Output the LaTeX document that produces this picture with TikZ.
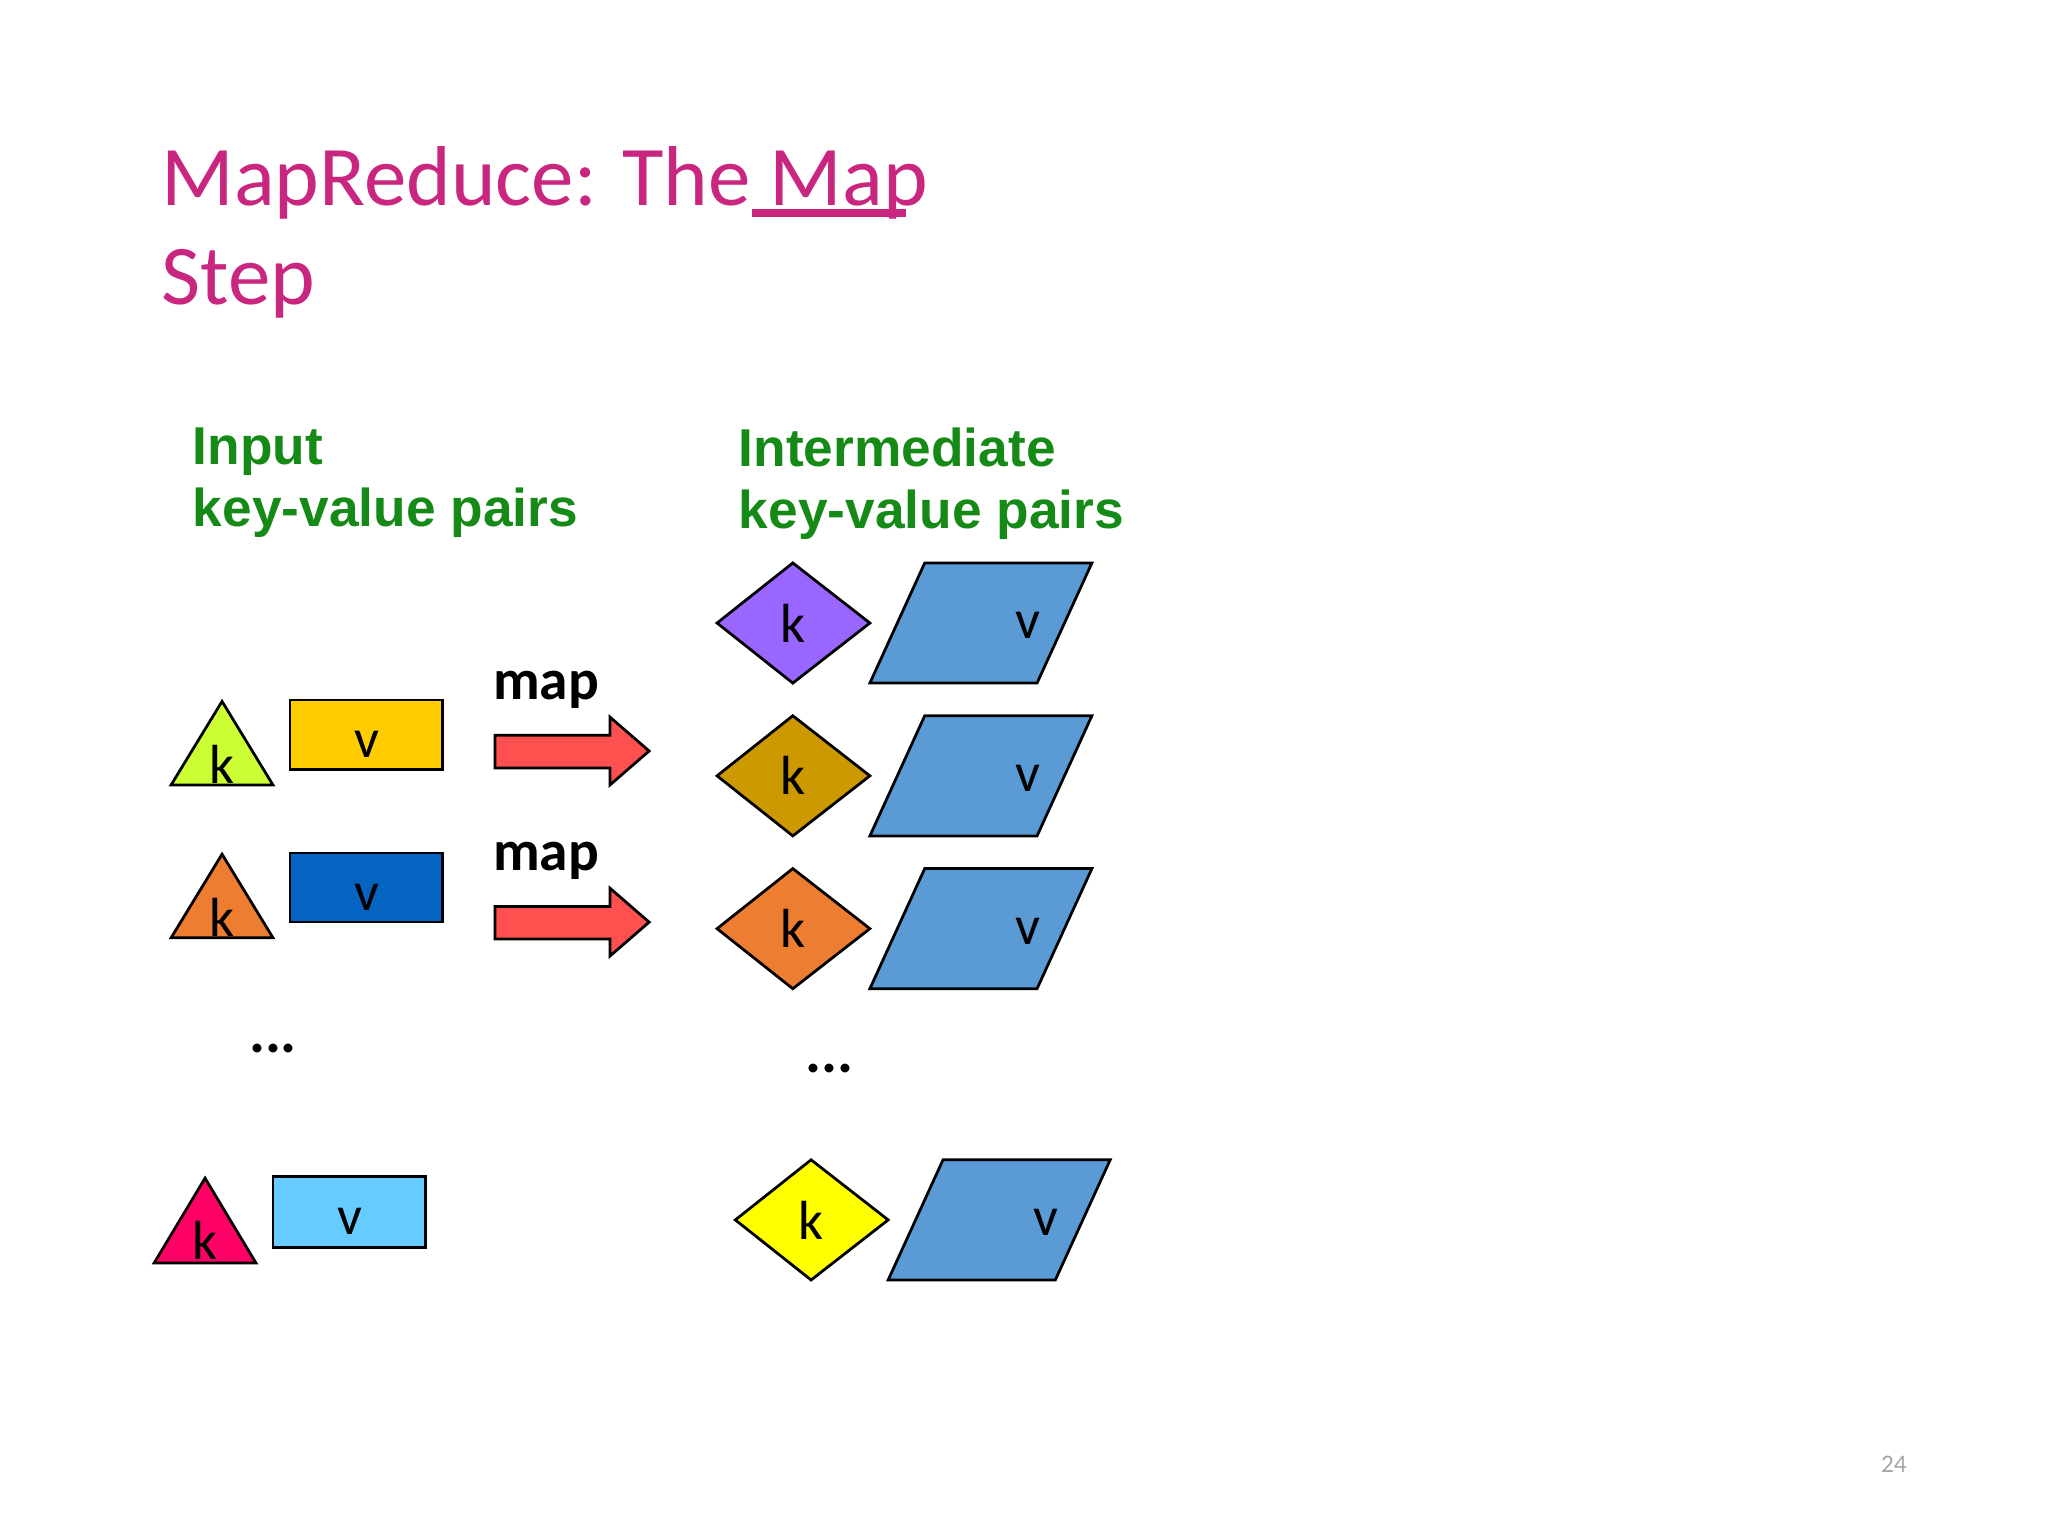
\documentclass[tikz,border=0pt]{standalone}
\usepackage{fontspec}
\setmainfont{Carlito}
\newfontfamily\arialf{Liberation Sans}
\definecolor{ttl}{HTML}{C8267F}
\definecolor{grn}{HTML}{168A16}
\begin{document}
\begin{tikzpicture}[x=0.01cm,y=-0.01cm,
  shp/.style={draw=black,line width=0.6pt},
  kv/.style={font=\fontsize{12}{12}\selectfont,inner sep=0pt},
  lbl/.style={font=\arialf\bfseries\fontsize{11.6}{13.4}\selectfont,text=grn,align=left,anchor=north west,inner sep=0pt},
  mapl/.style={font=\bfseries\fontsize{12.5}{12.5}\selectfont,inner sep=0pt},
  arr/.style={shp,fill={rgb,255:red,255;green,80;blue,80}}]
\useasboundingbox (0,0) rectangle (1568,1176);
% title
\node[anchor=base west,inner sep=0pt,text=ttl,font=\fontsize{18.5}{22}\selectfont] (t1) at (123,157) {MapReduce: The Map};
\node[anchor=base west,inner sep=0pt,text=ttl,font=\fontsize{18.5}{22}\selectfont] (t2) at (123,233) {Step};
\fill[ttl] (576,160) rectangle (694,166);
\node[lbl] (l1) at (147,327) {Input\\key-value pairs};
\node[lbl] (l2) at (565,327) {Intermediate\\key-value pairs};
% inputs
\foreach \y/\tc/\rc [count=\i] in {537/CCFF33/FFCC00,654/ED7D31/0563C1}{
  \definecolor{tc}{HTML}{\tc}\definecolor{rc}{HTML}{\rc}
  \draw[shp,fill=tc] (170,\y) -- (209,\y+64) -- (131,\y+64) -- cycle;
  \node[kv] (k\i) at (170,\y+48) {k};
  \draw[shp,fill=rc] (222,\y-1) rectangle (339,\y+52);
  \node[kv] (v\i) at (281,\y+33) {v};
}
\draw[shp,fill={rgb,255:red,255;green,0;blue,102}] (157,902) -- (196,967) -- (118,967) -- cycle;
\node[kv] (k4) at (157,950) {k};
\draw[shp,fill={rgb,255:red,102;green,204;blue,255}] (209,901) rectangle (326,955);
\node[kv] (v4) at (268,935) {v};
% arrows
\foreach \c [count=\i] in {575,706}{
  \draw[arr] (379,\c-12) -- (467,\c-12) -- (467,\c-26) -- (497,\c) -- (467,\c+26) -- (467,\c+13) -- (379,\c+13) -- cycle;
  \node[mapl] (m\i) at (418,\c-47) {map};
}
% outputs
\foreach \cx/\cy/\dc [count=\i] in {607/477/9966FF,607/594/CC9900,607/711/ED7D31,621/934/FFFF00}{
  \definecolor{dc}{HTML}{\dc}
  \draw[shp,fill=dc] (\cx-58,\cy) -- (\cx,\cy-46) -- (\cx+59,\cy) -- (\cx,\cy+46) -- cycle;
  \node[kv] (ok\i) at (\cx,\cy) {k};
  \draw[shp,fill={rgb,255:red,91;green,155;blue,213}] (\cx+101,\cy-46) -- (\cx+229,\cy-46) -- (\cx+187,\cy+46) -- (\cx+59,\cy+46) -- cycle;
  \node[kv] (ov\i) at (\cx+180,\cy+2) {v};
}
\node[font=\bfseries\fontsize{13}{13}\selectfont,inner sep=0pt] (d1) at (209,803) {...};
\node[font=\bfseries\fontsize{13}{13}\selectfont,inner sep=0pt] (d2) at (635,818) {...};
\node[text=gray!70,font=\fontsize{5.5}{6}\selectfont,inner sep=0pt] (pg) at (1450,1121) {24};
\end{tikzpicture}
\end{document}
